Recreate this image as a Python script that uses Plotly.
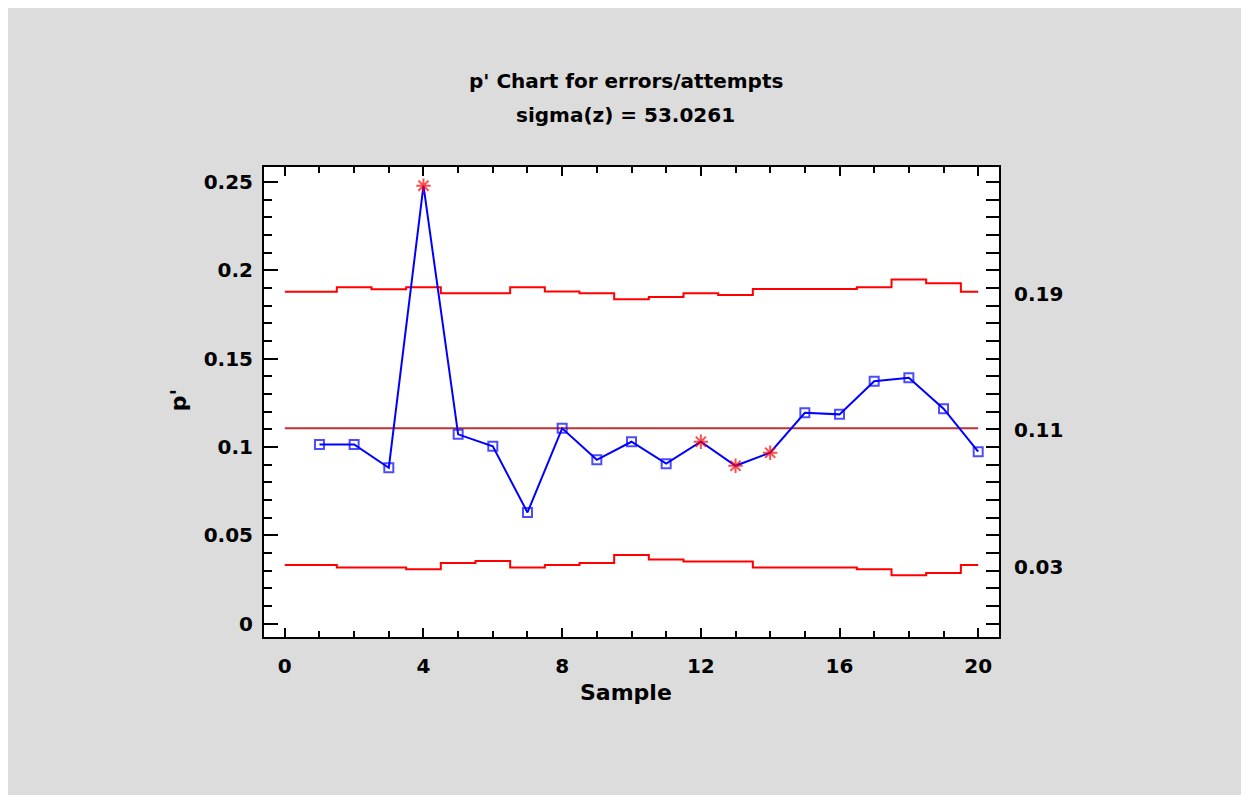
import plotly.graph_objects as go

# ---- data ----
samples = list(range(1, 21))
p_prime = [0.1015, 0.1015, 0.0883, 0.2479, 0.1072, 0.1004, 0.0630, 0.1106, 0.0928, 0.1030,
           0.0906, 0.1030, 0.0894, 0.0968, 0.1194, 0.1185, 0.1372, 0.1392, 0.1217, 0.0974]
flagged = [4, 12, 13, 14]
ucl = [0.1879, 0.1904, 0.1893, 0.1904, 0.1870, 0.1870, 0.1904, 0.1881, 0.1870, 0.1836,
       0.1849, 0.1870, 0.1860, 0.1894, 0.1894, 0.1894, 0.1904, 0.1949, 0.1927, 0.1879]
lcl = [0.0332, 0.0319, 0.0319, 0.0308, 0.0344, 0.0355, 0.0319, 0.0332, 0.0344, 0.0389,
       0.0364, 0.0353, 0.0353, 0.0319, 0.0319, 0.0319, 0.0308, 0.0274, 0.0287, 0.0332]
center = 0.1106
x_ticks = [0, 4, 8, 12, 16, 20]
y_ticks = [0, 0.05, 0.1, 0.15, 0.2, 0.25]
title_line1 = "p' Chart for errors/attempts"
title_line2 = "sigma(z) = 53.0261"

FONT = "DejaVu Sans"
GRAY = "rgb(220,220,220)"

# step edges: first limit starts at 0, last ends at the final sample
edges = [0] + [s + 0.5 for s in samples[:-1]] + [samples[-1]]

fig = go.Figure()

fig.add_trace(go.Scatter(x=edges, y=ucl + [ucl[-1]], mode="lines", line_shape="hv",
                         line=dict(color="#FF0000", width=2), hoverinfo="skip"))
fig.add_trace(go.Scatter(x=edges, y=lcl + [lcl[-1]], mode="lines", line_shape="hv",
                         line=dict(color="#FF0000", width=2), hoverinfo="skip"))
fig.add_trace(go.Scatter(x=[edges[0], edges[-1]], y=[center, center], mode="lines",
                         line=dict(color="rgb(190,50,50)", width=2), hoverinfo="skip"))

symbols = ["asterisk-open" if s in flagged else "square-open" for s in samples]
colors = ["#FF0000" if s in flagged else "#0000FF" for s in samples]
sizes = [12 if s in flagged else 9 for s in samples]
fig.add_trace(go.Scatter(x=samples, y=p_prime, mode="lines+markers",
                         line=dict(color="#0000FF", width=2),
                         marker=dict(symbol=symbols, color=colors, size=sizes,
                                     line=dict(width=2))))

# invisible trace on overlaid right axis (for the right-side ticks)
fig.add_trace(go.Scatter(x=[samples[0]], y=[p_prime[0]], yaxis="y2", mode="markers",
                         marker=dict(opacity=0), hoverinfo="skip"))

tickfont = dict(family=FONT, size=20, color="black", weight="bold")

fig.update_layout(
    width=1241, height=787,
    margin=dict(l=256, r=250, t=159, b=158),
    paper_bgcolor=GRAY, plot_bgcolor="white",
    showlegend=False,
    xaxis=dict(range=[-0.6, 20.6], tickvals=x_ticks, ticks="inside", ticklen=9, tickwidth=2,
               tickcolor="black", showline=True, linewidth=2, linecolor="black",
               mirror="ticks", showgrid=False, zeroline=False, tickfont=tickfont,
               ticklabelstandoff=10,
               minor=dict(dtick=1, tick0=0, ticks="inside", ticklen=6, tickwidth=2,
                          tickcolor="black", showgrid=False)),
    yaxis=dict(range=[-0.0075, 0.2585], tickvals=y_ticks, ticks="inside", ticklen=14,
               tickwidth=2, tickcolor="black", showline=True, linewidth=2,
               linecolor="black", mirror=True, showgrid=False, zeroline=False,
               tickfont=tickfont, ticklabelstandoff=5,
               minor=dict(dtick=0.01, tick0=0, ticks="inside", ticklen=8, tickwidth=2,
                          tickcolor="black", showgrid=False)),
    yaxis2=dict(range=[-0.0075, 0.2585], overlaying="y", side="right", dtick=0.01, tick0=0,
                ticks="inside", ticklen=13, tickwidth=2, tickcolor="black",
                showticklabels=False, showgrid=False, zeroline=False, showline=False),
)

# titles
fig.add_annotation(text=title_line1, xref="paper", yref="paper", x=0.4925, y=1.183,
                   xanchor="center", yanchor="middle", showarrow=False,
                   font=dict(family=FONT, size=20, color="black", weight="bold"))
fig.add_annotation(text=title_line2, xref="paper", yref="paper", x=0.4925, y=1.110,
                   xanchor="center", yanchor="middle", showarrow=False,
                   font=dict(family=FONT, size=20, color="black", weight="bold"))
fig.add_annotation(text="Sample", xref="paper", yref="paper", x=0.4925, y=-0.119,
                   xanchor="center", yanchor="middle", showarrow=False,
                   font=dict(family=FONT, size=22, color="black", weight="bold"))
fig.add_annotation(text="p'", xref="paper", yref="paper", x=-0.117, y=0.504,
                   xanchor="center", yanchor="middle", showarrow=False, textangle=-90,
                   font=dict(family=FONT, size=22, color="black", weight="bold"))

# right-side limit labels
for v in [ucl[-1], center, lcl[-1]]:
    fig.add_annotation(text=f"{v:.2f}", xref="paper", yref="y", x=1.0177, y=v,
                       xanchor="left", yanchor="middle", showarrow=False, yshift=-2,
                       font=dict(family=FONT, size=20, color="black", weight="bold"))

fig.write_html("out.html")
